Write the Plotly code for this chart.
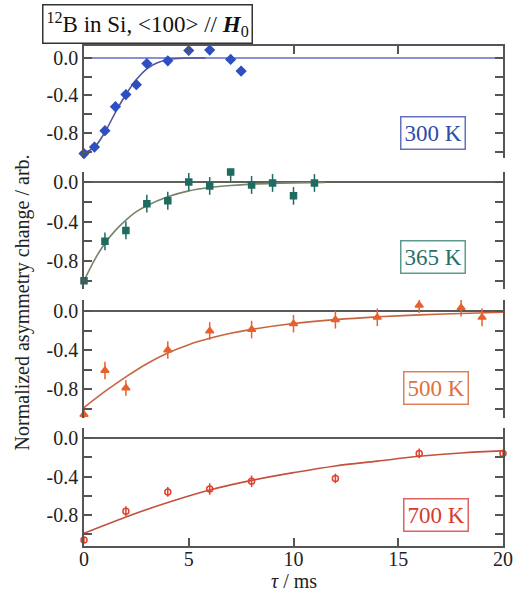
import plotly.graph_objects as go

# ---- measured points: delay time (ms), normalized asymmetry change, error ----
t300 = [0, 0.5, 1, 1.5, 2, 2.5, 3, 4, 5, 6, 7, 7.5]
a300 = [-1.02, -0.95, -0.775, -0.52, -0.39, -0.285, -0.06, -0.03, 0.08, 0.085, -0.015, -0.14]
e300 = [0.03, 0.05, 0.05, 0.05, 0.05, 0.05, 0.05, 0.05, 0.05, 0.05, 0.05, 0.05]

t365 = [0, 1, 2, 3, 4, 5, 6, 7, 8, 9, 10, 11]
a365 = [-1.0, -0.60, -0.49, -0.22, -0.19, 0.0, -0.04, 0.10, -0.03, -0.01, -0.14, -0.01]
e365 = [0.02, 0.09, 0.09, 0.09, 0.09, 0.09, 0.09, 0.09, 0.09, 0.09, 0.09, 0.09]

t500 = [0, 1, 2, 4, 6, 8, 10, 12, 14, 16, 18, 19]
a500 = [-1.06, -0.61, -0.79, -0.40, -0.205, -0.19, -0.13, -0.09, -0.065, 0.06, 0.035, -0.065]
e500 = [0.05, 0.09, 0.08, 0.09, 0.09, 0.09, 0.09, 0.09, 0.09, 0.08, 0.09, 0.09]

t700 = [0, 2, 4, 6, 8, 12, 16, 20]
a700 = [-1.06, -0.76, -0.56, -0.53, -0.45, -0.42, -0.16, -0.16]
e700 = [0.03, 0.05, 0.05, 0.06, 0.06, 0.05, 0.05, 0.04]

# ---- fitted relaxation curves ----
fit300_t = [0, 0.5, 1, 1.5, 2, 2.5, 3, 3.5, 4, 4.5, 5, 5.8]
fit300_a = [-1.01, -0.95, -0.79, -0.58, -0.39, -0.23, -0.115, -0.05, -0.018, -0.005, 0.0, 0.0]

fit365_t = [0, 0.5, 1, 1.5, 2, 2.5, 3, 4, 5, 6, 7, 8, 9, 10, 11.5]
fit365_a = [-1.0, -0.79, -0.62, -0.49, -0.385, -0.30, -0.24, -0.15, -0.09, -0.057,
            -0.036, -0.022, -0.014, -0.009, -0.004]

fit500_t = [0, 1, 2, 3, 4, 5, 6, 7, 8, 10, 12, 14, 16, 18, 20]
fit500_a = [-0.99, -0.825, -0.675, -0.54, -0.43, -0.345, -0.28, -0.228, -0.188, -0.128,
            -0.088, -0.06, -0.04, -0.025, -0.013]

fit700_t = [0, 2, 4, 6, 8, 10, 12, 14, 16, 18, 20]
fit700_a = [-0.99, -0.82, -0.67, -0.54, -0.44, -0.36, -0.29, -0.24, -0.19, -0.155, -0.134]

temps = ["300 K", "365 K", "500 K", "700 K"]
x_ticks = [0, 5, 10, 15, 20]
y_major = [0.0, -0.4, -0.8]
y_major_text = ["0.0", "-0.4", "-0.8"]
y_minor = [-0.2, -0.6, -1.0]

FONT = "Liberation Serif, Times New Roman, serif"
AX = "#555555"

panels = [
    dict(t=t300, a=a300, e=e300, ft=fit300_t, fa=fit300_a, symbol="diamond", size=7,
         mcol="#2d4fc0", fcol="#55559c", zcol="#8a90d0", lcol="#2f4aa8", bcol="#6670c0",
         yrange=[-1.067, 0.128], dom=[0.776, 1.0], lab=(0.834, 0.826)),
    dict(t=t365, a=a365, e=e365, ft=fit365_t, fa=fit365_a, symbol="square", size=6,
         mcol="#1e6b60", fcol="#76846c", zcol="#5e6258", lcol="#2b6f66", bcol="#5f9a90",
         yrange=[-1.083, 0.101], dom=[0.514, 0.748], lab=(0.832, 0.578)),
    dict(t=t500, a=a500, e=e500, ft=fit500_t, fa=fit500_a, symbol="triangle-up", size=7,
         mcol="#e8602c", fcol="#c8643e", zcol="#5e5856", lcol="#e0703c", bcol="#e0805a",
         yrange=[-1.097, 0.113], dom=[0.256, 0.492], lab=(0.839, 0.316)),
    dict(t=t700, a=a700, e=e700, ft=fit700_t, fa=fit700_a, symbol="circle-open", size=6,
         mcol="#e0402c", fcol="#c4503e", zcol="#5e5856", lcol="#d83a30", bcol="#e06060",
         yrange=[-1.122, 0.104], dom=[0.0, 0.236], lab=(0.841, 0.062)),
]

fig = go.Figure()
annotations = []

for i, p in enumerate(panels):
    n = i + 1
    xa = "x" if n == 1 else f"x{n}"
    ya = "y" if n == 1 else f"y{n}"

    fig.add_trace(go.Scatter(
        x=p["ft"], y=p["fa"], mode="lines", line=dict(color=p["fcol"], width=1.6, shape="spline"),
        xaxis=xa, yaxis=ya, showlegend=False, hoverinfo="skip"))
    fig.add_trace(go.Scatter(
        x=p["t"], y=p["a"], mode="markers",
        marker=dict(symbol=p["symbol"], size=p["size"], color=p["mcol"],
                    line=dict(color=p["mcol"], width=1.5)),
        error_y=dict(type="data", array=p["e"], visible=True, color=p["mcol"],
                     thickness=1.5, width=0),
        xaxis=xa, yaxis=ya, showlegend=False, cliponaxis=False))

    xkey = "xaxis" if n == 1 else f"xaxis{n}"
    ykey = "yaxis" if n == 1 else f"yaxis{n}"

    yax = dict(domain=p["dom"], range=p["yrange"], anchor=xa,
               tickvals=y_major, ticktext=y_major_text, ticks="inside", ticklen=8,
               tickwidth=1.5, tickcolor=AX,
               minor=dict(tickvals=y_minor, ticks="inside", ticklen=8, tickwidth=1.5,
                          tickcolor=AX, showgrid=False),
               showline=True, linecolor=AX, linewidth=1.5,
               mirror="ticks", showgrid=False, zeroline=True, zerolinecolor=p["zcol"],
               zerolinewidth=1.6, tickfont=dict(family=FONT, size=20, color="#222222"))
    if n == 1:
        xax = dict(domain=[0, 1], range=[0, 20], anchor=ya, side="top", tickvals=x_ticks,
                   ticks="inside", ticklen=8, tickwidth=1.5, tickcolor=AX, showline=True,
                   linecolor=AX, linewidth=1.5, showticklabels=False, showgrid=False,
                   zeroline=False)
    elif n == 4:
        xax = dict(domain=[0, 1], range=[0, 20], anchor=ya, tickvals=x_ticks,
                   ticks="inside", ticklen=8, tickwidth=1.5, tickcolor=AX, showline=True,
                   linecolor=AX, linewidth=1.5, showgrid=False, zeroline=False,
                   ticklabelstandoff=-6,
                   tickfont=dict(family=FONT, size=20, color="#222222"))
    else:
        xax = dict(domain=[0, 1], range=[0, 20], anchor=ya, visible=False)
    fig.update_layout({xkey: xax, ykey: yax})

    annotations.append(dict(
        x=p["lab"][0], y=p["lab"][1], xref="paper", yref="paper", text=temps[i],
        xanchor="center", yanchor="middle",
        showarrow=False, font=dict(family=FONT, size=23, color=p["lcol"]),
        bordercolor=p["bcol"], borderwidth=1.5, borderpad=3, bgcolor="white"))

annotations.append(dict(
    x=0.152, y=1.045, xref="paper", yref="paper", xanchor="center", yanchor="middle",
    text="<sup>12</sup>B in Si, &lt;100&gt; // <b><i>H</i></b><sub>0</sub>",
    showarrow=False, font=dict(family=FONT, size=23, color="#111111"),
    bordercolor="#333333", borderwidth=1.5, borderpad=3, bgcolor="white"))

annotations.append(dict(
    x=-0.147, y=0.488, xref="paper", yref="paper", textangle=-90,
    xanchor="center", yanchor="middle",
    text="Normalized asymmetry change / arb.", showarrow=False,
    font=dict(family=FONT, size=20, color="#222222")))

annotations.append(dict(
    x=0.5, y=-0.069, xref="paper", yref="paper", text="<i>τ</i> / ms",
    xanchor="center", yanchor="middle", borderpad=0,
    showarrow=False, font=dict(family=FONT, size=20, color="#222222")))

fig.update_layout(
    width=525, height=592,
    margin=dict(l=84, r=19, t=46, b=46),
    paper_bgcolor="white", plot_bgcolor="white",
    annotations=annotations,
)

fig.write_html("out.html")
